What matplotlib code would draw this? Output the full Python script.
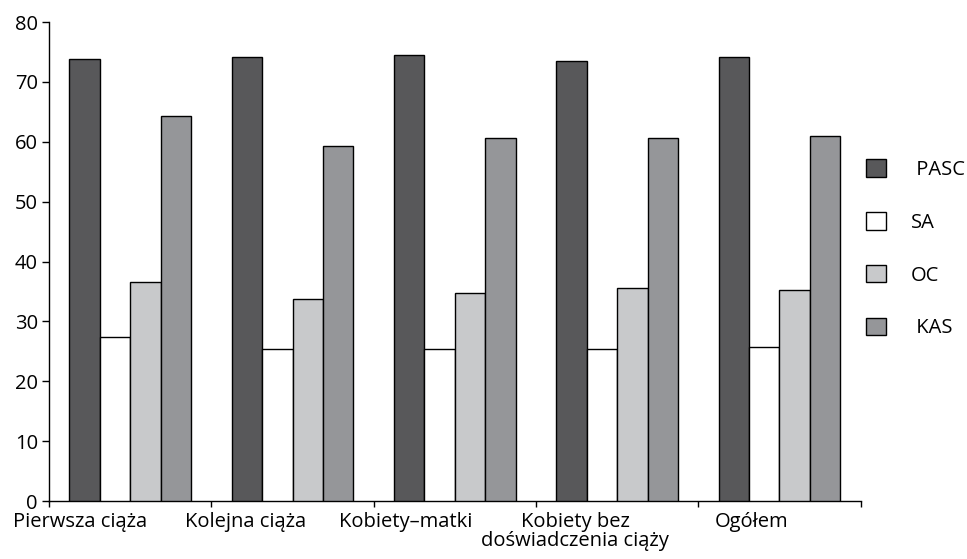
import matplotlib.pyplot as plt
import numpy as np

plt.rcParams["font.family"] = ["Open Sans", "DejaVu Sans"]

# data
categories = ["Pierwsza ciąża", "Kolejna ciąża", "Kobiety–matki",
              "Kobiety bez\ndoświadczenia ciąży", "Ogółem"]
series = ["PASC", "SA", "OC", "KAS"]
pasc = [73.8, 74.1, 74.5, 73.5, 74.1]
sa = [27.4, 25.4, 25.4, 25.4, 25.7]
oc = [36.6, 33.8, 34.8, 35.5, 35.2]
kas = [64.3, 59.3, 60.6, 60.6, 60.9]

# styling
colors = ["#58585a", "#ffffff", "#c8c9cb", "#959699"]
legend_labels = [" PASC", "SA", "OC", " KAS"]
label_shift = [-0.31, -0.29, -0.30, -0.26, -0.17]   # x labels sit left of centre
FS = 14.5

fig = plt.figure(figsize=(9.67, 5.59), dpi=100)
ax = fig.add_axes([0.0507, 0.1037, 0.8393, 0.8569])

x = np.arange(len(categories))
w = 0.187
handles = []
for k, vals in enumerate([pasc, sa, oc, kas]):
    b = ax.bar(x + (k - 1.5) * w, vals, w, color=colors[k],
               edgecolor="black", linewidth=1.0, zorder=3)
    handles.append(b)

ax.set_xlim(-0.5, len(categories) - 0.5)
ax.set_ylim(0, 80)
ax.set_yticks(range(0, 81, 10))

# tick marks at category boundaries, labels placed separately
ax.set_xticks(np.arange(len(categories) + 1) - 0.5)
ax.set_xticklabels([])
ax.set_xticks(x + np.array(label_shift), categories, minor=True)
ax.tick_params(axis="x", which="minor", length=0, pad=8, labelsize=FS)
ax.tick_params(axis="x", which="major", length=4, width=1, direction="out")
ax.tick_params(axis="y", length=5, width=1, direction="out", pad=3, labelsize=FS)
for t in ax.get_xticklabels(minor=True):
    t.set_linespacing(0.95)

for s in ["top", "right"]:
    ax.spines[s].set_visible(False)
for s in ["left", "bottom"]:
    ax.spines[s].set_linewidth(1.0)

fig.legend(handles, legend_labels, loc="upper left",
           bbox_to_anchor=(0.896, 0.715), frameon=False, fontsize=FS,
           handlelength=0.95, handleheight=0.95, labelspacing=1.6,
           handletextpad=1.25, borderpad=0, borderaxespad=0)

fig.savefig("out.png", dpi=100, facecolor="white")
